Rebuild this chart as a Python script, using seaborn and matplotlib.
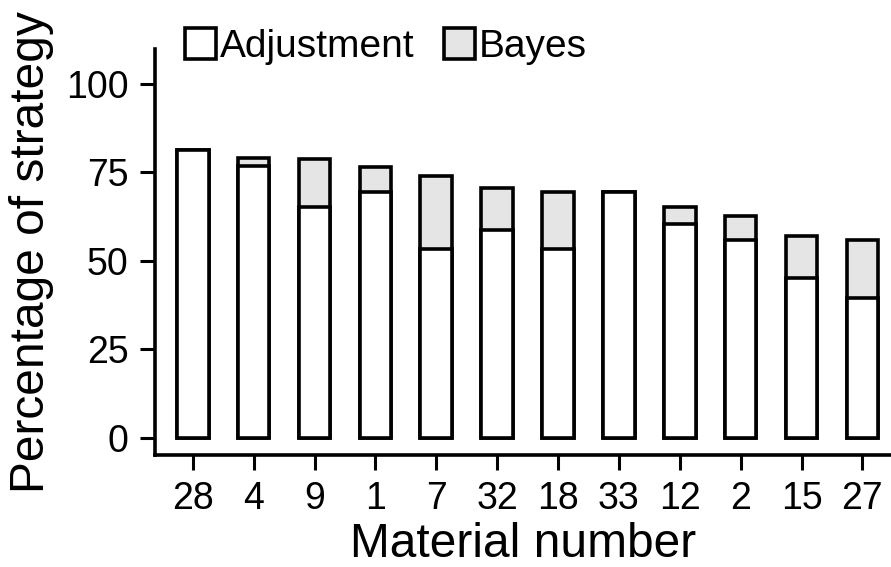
import pandas as pd
import matplotlib.pyplot as plt
import seaborn as sns
from matplotlib.patches import Patch

materials = ['28', '4', '9', '1', '7', '32', '18', '33', '12', '2', '15', '27']
adjustment = [81.3, 76.8, 65.2, 69.6, 53.3, 58.6, 53.4, 69.6, 60.3, 55.9, 45.1, 39.4]
bayes = [0.0, 2.2, 13.6, 7.0, 20.8, 12.1, 16.2, 0.0, 4.9, 6.9, 11.8, 16.4]

df = pd.DataFrame({'material': materials, 'Adjustment': adjustment, 'Bayes': bayes})
df['total'] = df['Adjustment'] + df['Bayes']

sns.set_style('ticks')
plt.rcParams['font.family'] = ['Liberation Sans', 'DejaVu Sans']
plt.rcParams['text.color'] = 'black'
plt.rcParams['axes.labelcolor'] = 'black'
plt.rcParams['xtick.color'] = 'black'
plt.rcParams['ytick.color'] = 'black'

gray = '#e5e5e5'
fig = plt.figure(figsize=(8.91, 5.67), dpi=100)
ax = fig.add_axes([0.174, 0.1975, 0.826, 0.7161])

sns.barplot(data=df, x='material', y='total', order=materials, color=gray,
            edgecolor='black', linewidth=2.6, width=0.52, saturation=1, ax=ax)
sns.barplot(data=df, x='material', y='Adjustment', order=materials, color='white',
            edgecolor='black', linewidth=2.6, width=0.52, saturation=1, ax=ax)

ax.set_xlim(-0.62, 11.47)
ax.set_ylim(-4.9, 109.9)
ax.set_yticks([0, 25, 50, 75, 100])
ax.set_xlabel('Material number', fontsize=34.5, labelpad=3)
ax.set_ylabel('Percentage of strategy', fontsize=34.5, labelpad=9)
ax.tick_params(axis='both', labelsize=27, length=11, width=2.2, pad=8,
               color='black', labelcolor='black')

for side in ['top', 'right']:
    ax.spines[side].set_visible(False)
for side in ['left', 'bottom']:
    ax.spines[side].set_linewidth(2.6)
    ax.spines[side].set_color('black')

handles = [Patch(facecolor='white', edgecolor='black', linewidth=2.6, label='Adjustment'),
           Patch(facecolor=gray, edgecolor='black', linewidth=2.6, label='Bayes')]
fig.legend(handles=handles, loc='center left', bbox_to_anchor=(0.208, 0.918),
           ncol=2, frameon=False, fontsize=28, handlelength=0.8, handleheight=0.87,
           handletextpad=0.1, columnspacing=0.75, borderpad=0, borderaxespad=0)

fig.savefig('out.png', dpi=100)
